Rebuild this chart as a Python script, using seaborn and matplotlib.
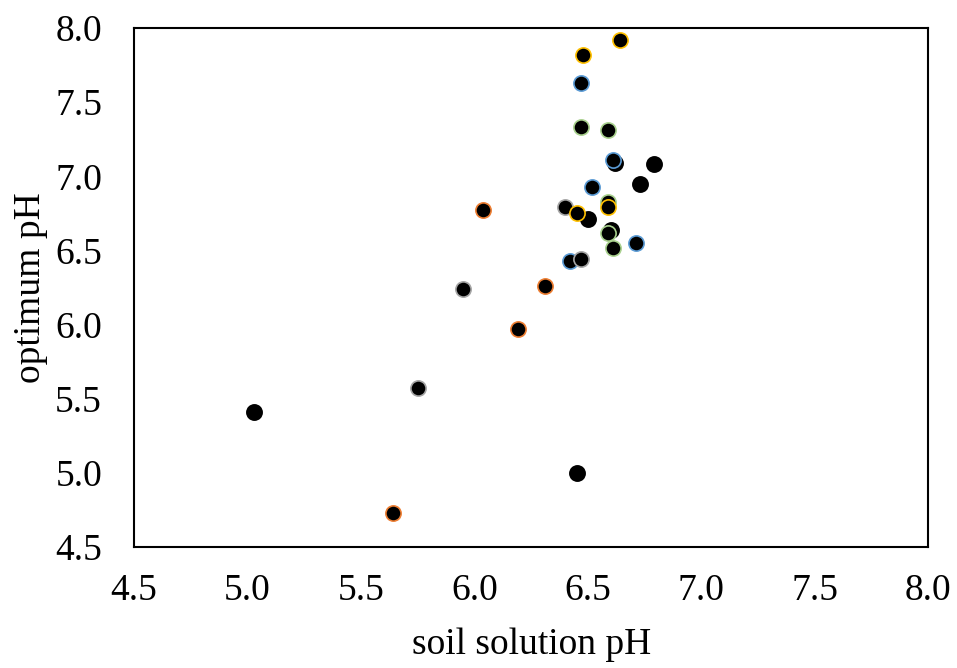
import pandas as pd
import numpy as np
import matplotlib.pyplot as plt
import seaborn as sns

# soil solution pH / optimum pH, grouped by marker outline colour
grp = ['yellow', 'yellow', 'blue', 'green', 'green', 'blue', 'black', 'black',
       'black', 'blue', 'green', 'yellow', 'gray', 'yellow', 'black', 'black',
       'green', 'blue', 'green', 'blue', 'gray', 'orange', 'gray', 'orange',
       'orange', 'black', 'gray', 'black', 'orange']
soil_ph = [6.64, 6.48, 6.47, 6.47, 6.59, 6.61, 6.62, 6.79,
           6.73, 6.52, 6.59, 6.59, 6.40, 6.45, 6.50, 6.60,
           6.59, 6.71, 6.61, 6.42, 6.47, 6.04, 5.95, 6.31,
           6.19, 5.03, 5.75, 6.45, 5.64]
opt_ph = [7.92, 7.82, 7.63, 7.33, 7.31, 7.11, 7.09, 7.08,
          6.95, 6.93, 6.83, 6.79, 6.79, 6.75, 6.71, 6.64,
          6.62, 6.55, 6.52, 6.43, 6.44, 6.77, 6.24, 6.26,
          5.97, 5.41, 5.57, 5.00, 4.73]

edge_cols = {'yellow': '#FFC000', 'blue': '#5B9BD5', 'green': '#A9D18E',
             'orange': '#ED7D31', 'gray': '#A5A5A5', 'black': 'black'}

df = pd.DataFrame({'soil': soil_ph, 'opt': opt_ph, 'grp': grp})

sns.set_style('white')
plt.rcParams['font.family'] = ['Liberation Serif', 'DejaVu Serif']

fig = plt.figure(figsize=(9.57, 6.68), dpi=100)
ax = fig.add_axes([0.140, 0.181, 0.830, 0.777])

for g, sub in df.groupby('grp'):
    sns.scatterplot(data=sub, x='soil', y='opt', color='black',
                    edgecolor=edge_cols[g], linewidth=1.2, s=120, ax=ax)

ax.set_xlim(4.5, 8.0)
ax.set_ylim(4.5, 8.0)
ticks = np.arange(4.5, 8.01, 0.5)
ax.set_xticks(ticks)
ax.set_yticks(ticks)
ax.set_xticklabels([f'{t:.1f}' for t in ticks])
ax.set_yticklabels([f'{t:.1f}' for t in ticks])
ax.tick_params(labelsize=27, length=0, labelcolor='black')
ax.tick_params(axis='x', pad=19)
ax.tick_params(axis='y', pad=23)
ax.set_xlabel('soil solution pH', fontsize=27, labelpad=14, color='black')
ax.set_ylabel('optimum pH', fontsize=27, labelpad=5, color='black')
for sp in ax.spines.values():
    sp.set_color('black')
    sp.set_linewidth(1.5)

fig.savefig('out.png', dpi=100)
